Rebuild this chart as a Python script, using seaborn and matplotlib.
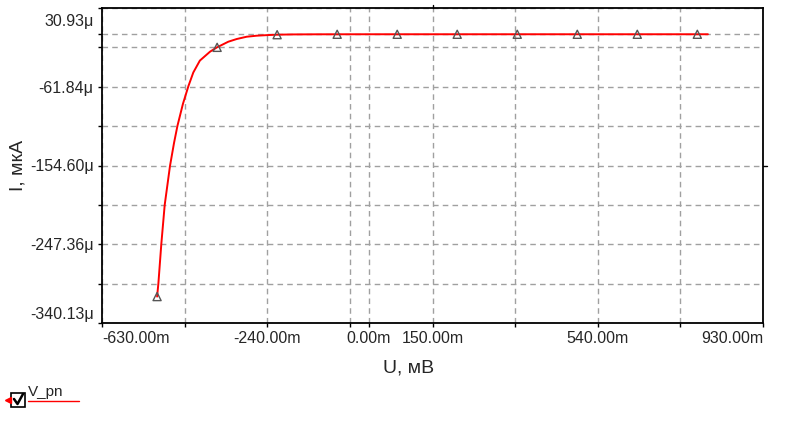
import numpy as np
import pandas as pd
import matplotlib
matplotlib.use("Agg")
import matplotlib.pyplot as plt
from matplotlib.lines import Line2D
from matplotlib.patches import Rectangle
import matplotlib.transforms as mtransforms
import seaborn as sns

sns.set_style("white")
plt.rcParams['font.family'] = ['Liberation Sans', 'DejaVu Sans']

# curve (U in mV, I in uA)
u_curve = [-500, -497, -490, -482, -469.5, -460, -452, -439, -426, -414.5, -399,
           -375, -358.5, -332, -312, -288.5, -265, -240, -217, -180, -120, 0,
           200, 400, 600, 800]
i_curve = [-309, -294, -247, -201, -155, -128, -108, -82, -61, -45, -31,
           -20.5, -15.4, -8.8, -5.6, -2.9, -1.7, -1.0, -0.5, -0.2, -0.05, 0,
           0, 0, 0, 0]

# triangle markers along the trace
u_mark = [-500, -358.3, -216.7, -75, 66.7, 208.3, 350, 491.7, 633.3, 775]
i_mark = [-309, -15.4, -0.5, 0, 0, 0, 0, 0, 0, 0]

# axis ticks
x_ticks = [-630, -435, -240, -45, 0, 150, 345, 540, 735, 930]
x_labels = ["-630.00m", "", "-240.00m", "", "0.00m", "150.00m", "", "540.00m", "", "930.00m"]
y_ticks = [30.93, 0, -15.46, -61.84, -108.22, -154.60, -200.98, -247.36, -293.75, -340.13]
y_labels = ["30.93\u03bc", "", "", "-61.84\u03bc", "", "-154.60\u03bc", "", "-247.36\u03bc", "", "-340.13\u03bc"]

df = pd.DataFrame({'U': u_curve, 'I': i_curve})
dm = pd.DataFrame({'U': u_mark, 'I': i_mark})

fig = plt.figure(figsize=(7.95, 4.24), dpi=100)
ax = fig.add_axes([102 / 795, 101 / 424, 661 / 795, 315 / 424])

sns.lineplot(data=df, x='U', y='I', color='#ff0000', linewidth=1.4, ax=ax, zorder=3)
sns.scatterplot(data=dm, x='U', y='I', marker='^', s=34, facecolor='none',
                edgecolor='#555555', linewidth=1.0, ax=ax, zorder=4)

ax.set_xlim(-630, 930)
ax.set_ylim(-340.13, 30.93)
ax.set_xticks(x_ticks)
ax.set_xticklabels(x_labels)
ax.set_yticks(y_ticks)
ax.set_yticklabels(y_labels)
ax.tick_params(axis='both', direction='out', length=3, width=1, color='black',
               labelsize=11.5, pad=3, left=True, bottom=True)
ax.grid(True, color='#a0a0a0', linestyle=(0, (4, 3)), linewidth=1)

for s in ax.spines.values():
    s.set_color('black')
    s.set_linewidth(1.3)

# end labels kept inside the axis span
xl = ax.get_xticklabels()
xl[0].set_ha('left')
xl[-1].set_ha('right')
yl = ax.get_yticklabels()
yl[0].set_transform(yl[0].get_transform() + mtransforms.ScaledTranslation(0, -12 / 100, fig.dpi_scale_trans))
yl[-1].set_transform(yl[-1].get_transform() + mtransforms.ScaledTranslation(0, 10 / 100, fig.dpi_scale_trans))

ax.set_xlabel("U, мВ", fontsize=14)
ax.set_ylabel("I, мкА", fontsize=14)
ax.xaxis.set_label_coords(0.464, -0.143)
ax.xaxis.label.set_va('center')
ax.yaxis.set_label_coords(-0.127, 0.5)
ax.yaxis.label.set_va('center')

# cursor marks on top and right edges
ax.add_line(Line2D([150, 150], [1, 1.01], transform=ax.get_xaxis_transform(),
                   color='black', linewidth=1, clip_on=False))
ax.add_line(Line2D([1, 1.006], [-154.60, -154.60], transform=ax.get_yaxis_transform(),
                   color='black', linewidth=1, clip_on=False))


# legend box at the bottom left
def px(x, y):
    return x / 795, 1 - y / 424


mx, my = zip(px(8, 400))
fig.add_artist(Line2D(mx, my, marker='<', markersize=5, color='#ff0000',
                      transform=fig.transFigure))
fig.add_artist(Rectangle(px(11, 407), 14 / 795, 14 / 424, transform=fig.transFigure,
                         facecolor='white', edgecolor='black', linewidth=1.2))
cx, cy = zip(px(14, 399), px(17.5, 404), px(23, 394))
fig.add_artist(Line2D(cx, cy, color='black', linewidth=1.8, transform=fig.transFigure))
fig.text(*px(28, 392), "V_pn", fontsize=11, va='center', ha='left')
lx, ly = zip(px(28, 401), px(79, 401))
fig.add_artist(Line2D(lx, ly, color='#ff0000', linewidth=1, transform=fig.transFigure))

fig.savefig("out.png", dpi=100)
